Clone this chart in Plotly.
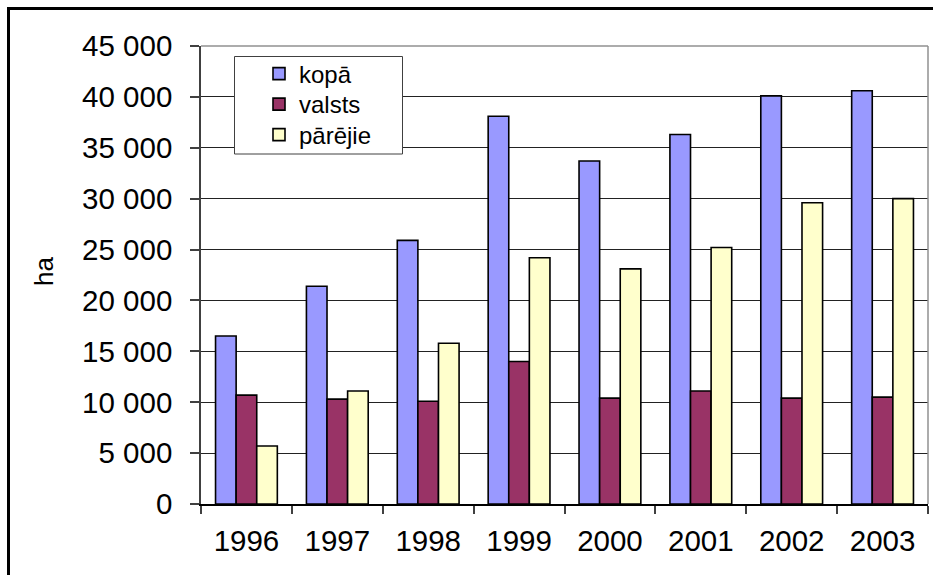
import plotly.graph_objects as go

years = ["1996", "1997", "1998", "1999", "2000", "2001", "2002", "2003"]
kopa = [16500, 21400, 25900, 38100, 33700, 36300, 40100, 40600]
valsts = [10700, 10300, 10100, 14000, 10400, 11100, 10400, 10500]
parejie = [5700, 11100, 15800, 24200, 23100, 25200, 29600, 30000]
series_names = ["kopā", "valsts", "pārējie"]
colors = ["#9999FF", "#993366", "#FFFFCC"]
y_ticks = [0, 5000, 10000, 15000, 20000, 25000, 30000, 35000, 40000, 45000]

FONT = "Liberation Sans, Arial, sans-serif"

# plot area in pixels
L, R, T, B = 201, 928, 46, 504
W, H = 933, 575
PW, PH = R - L, B - T

def px(x):
    return (x - L) / PW

def py(y):
    return (B - y) / PH

legend_ids = ["legend", "legend2", "legend3"]
legend_centers = [74, 104.5, 135]

fig = go.Figure()
for name, vals, col, lid in zip(series_names, [kopa, valsts, parejie], colors, legend_ids):
    fig.add_trace(go.Bar(
        x=years, y=vals, name=name, legend=lid,
        marker=dict(color=col, line=dict(color="black", width=1.6)),
    ))

shapes = [
    # outer chart border
    dict(type="rect", xref="paper", yref="paper",
         x0=px(8.5), x1=px(W + 20), y0=py(W), y1=py(8.5),
         line=dict(color="black", width=3), fillcolor="rgba(0,0,0,0)", layer="below"),
    # plot area top and right borders
    dict(type="line", xref="paper", yref="paper", x0=0, x1=1, y0=1, y1=1,
         line=dict(color="#909090", width=1.5), layer="above"),
    dict(type="line", xref="paper", yref="paper", x0=1, x1=1, y0=0, y1=1,
         line=dict(color="#909090", width=1.5), layer="above"),
    # legend box
    dict(type="rect", xref="paper", yref="paper",
         x0=px(234.5), x1=px(402.5), y0=py(154), y1=py(56.5),
         line=dict(color="#404040", width=1), fillcolor="white", layer="above"),
]

legend_style = dict(
    xanchor="left", yanchor="middle",
    bgcolor="rgba(0,0,0,0)", borderwidth=0,
    font=dict(family=FONT, size=24, color="black"),
    itemwidth=30,
)

fig.update_layout(
    width=W, height=H,
    margin=dict(l=L, r=W - R, t=T, b=H - B, pad=0),
    paper_bgcolor="white", plot_bgcolor="white",
    barmode="group", bargap=0.32, bargroupgap=0,
    separators=". ",
    font=dict(family=FONT, size=29.5, color="black"),
    showlegend=True,
    shapes=shapes,
    annotations=[dict(
        text="ha", textangle=-90, xref="paper", yref="paper",
        x=px(44), y=py(272), xanchor="center", yanchor="middle",
        showarrow=False, font=dict(family=FONT, size=26, color="black"),
    )],
)
for lid, cy in zip(legend_ids, legend_centers):
    fig.update_layout({lid: dict(x=px(259), y=py(cy), **legend_style)})

fig.update_xaxes(
    type="category", showline=True, linecolor="black", linewidth=1.5,
    ticks="outside", tickson="boundaries", ticklen=8, tickcolor="#404040",
    tickwidth=1.5, showgrid=False, ticklabelstandoff=10,
    tickfont=dict(family=FONT, size=29.5, color="black"),
)
fig.update_yaxes(
    range=[0, 45000], tickvals=y_ticks, tickformat=",d",
    showline=True, linecolor="#404040", linewidth=1.5,
    ticks="outside", ticklen=9, tickcolor="#404040", tickwidth=1.5,
    showgrid=True, gridcolor="#222222", gridwidth=1,
    zeroline=False, ticklabelstandoff=12,
    tickfont=dict(family=FONT, size=29.5, color="black"),
)

fig.write_html(
    "out.html",
    config={"displayModeBar": False},
    post_script="document.body.style.margin='0';document.body.style.padding='0';",
)
